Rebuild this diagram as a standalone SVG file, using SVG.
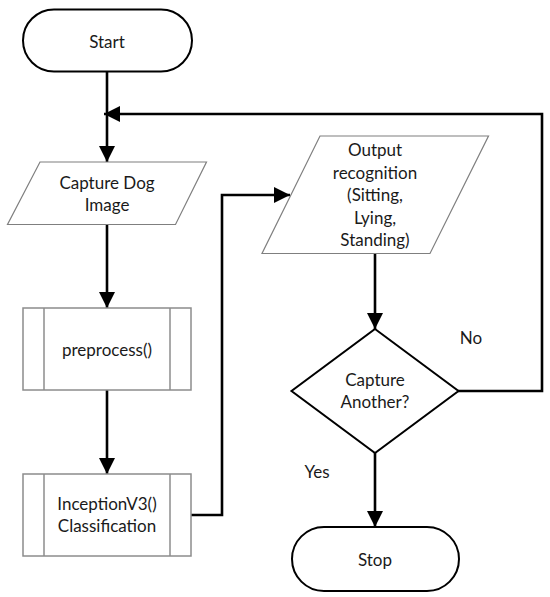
<svg xmlns="http://www.w3.org/2000/svg" width="550" height="597" viewBox="0 0 550 597">
<style>
text{font-family:Lato,"Open Sans","Liberation Sans",sans-serif;font-size:17px;fill:#1a1a1a;text-anchor:middle}
.term{fill:#fff;stroke:#000;stroke-width:2}
.io{fill:#fff;stroke:#7f7f7f;stroke-width:1.2}
.proc{fill:#fff;stroke:#8c8c8c;stroke-width:1.5}
.dec{fill:#fff;stroke:#000;stroke-width:2}
.conn{fill:none;stroke:#000;stroke-width:2.6}
</style>
<defs>
<marker id="ah" markerWidth="16" markerHeight="16" viewBox="0 0 16 16" refX="16" refY="8" orient="auto" markerUnits="userSpaceOnUse">
<path d="M0,0 L16,8 L0,16 Z" fill="#000"/>
</marker>
</defs>
<g id="connectors">
<path class="conn" d="M107,72 V162" marker-end="url(#ah)"/>
<path class="conn" d="M107,225 V308" marker-end="url(#ah)"/>
<path class="conn" d="M107,390 V474" marker-end="url(#ah)"/>
<path class="conn" d="M191,515 H222 V195 H290" marker-end="url(#ah)"/>
<path class="conn" d="M375,253 V329" marker-end="url(#ah)"/>
<path class="conn" d="M458,391 H542 V114 H104" marker-end="url(#ah)"/>
<path class="conn" d="M375,453 V527" marker-end="url(#ah)"/>
</g>
<g id="start">
<rect class="term" x="23" y="9.5" width="169" height="62" rx="31"/>
<text x="107" y="48">Start</text>
</g>
<g id="capture">
<polygon class="io" points="40,162 206.5,162 175.5,224.5 7.5,224.5"/>
<text x="107" y="189">Capture Dog</text>
<text x="107" y="211">Image</text>
</g>
<g id="preprocess">
<rect class="proc" x="23" y="308" width="168" height="82"/>
<line class="proc" x1="44" y1="308" x2="44" y2="390"/>
<line class="proc" x1="170" y1="308" x2="170" y2="390"/>
<text x="107" y="356">preprocess()</text>
</g>
<g id="inception">
<rect class="proc" x="23" y="474" width="168" height="82"/>
<line class="proc" x1="44" y1="474" x2="44" y2="556"/>
<line class="proc" x1="170" y1="474" x2="170" y2="556"/>
<text x="107" y="510">InceptionV3()</text>
<text x="107" y="532">Classification</text>
</g>
<g id="output">
<polygon class="io" points="320,136 488.5,136 430,253.5 262,253.5"/>
<text x="375" y="156">Output</text>
<text x="375" y="178.5">recognition</text>
<text x="375" y="201">(Sitting,</text>
<text x="375" y="224">Lying,</text>
<text x="375" y="246">Standing)</text>
</g>
<g id="decision">
<polygon class="dec" points="375,329 458.5,391 375,453 291.5,391"/>
<text x="375" y="386">Capture</text>
<text x="375" y="408">Another?</text>
</g>
<g id="labels">
<text x="471" y="344">No</text>
<text x="317" y="478">Yes</text>
</g>
<g id="stop">
<rect class="term" x="292" y="527" width="167" height="64" rx="32"/>
<text x="375" y="566">Stop</text>
</g>
</svg>
